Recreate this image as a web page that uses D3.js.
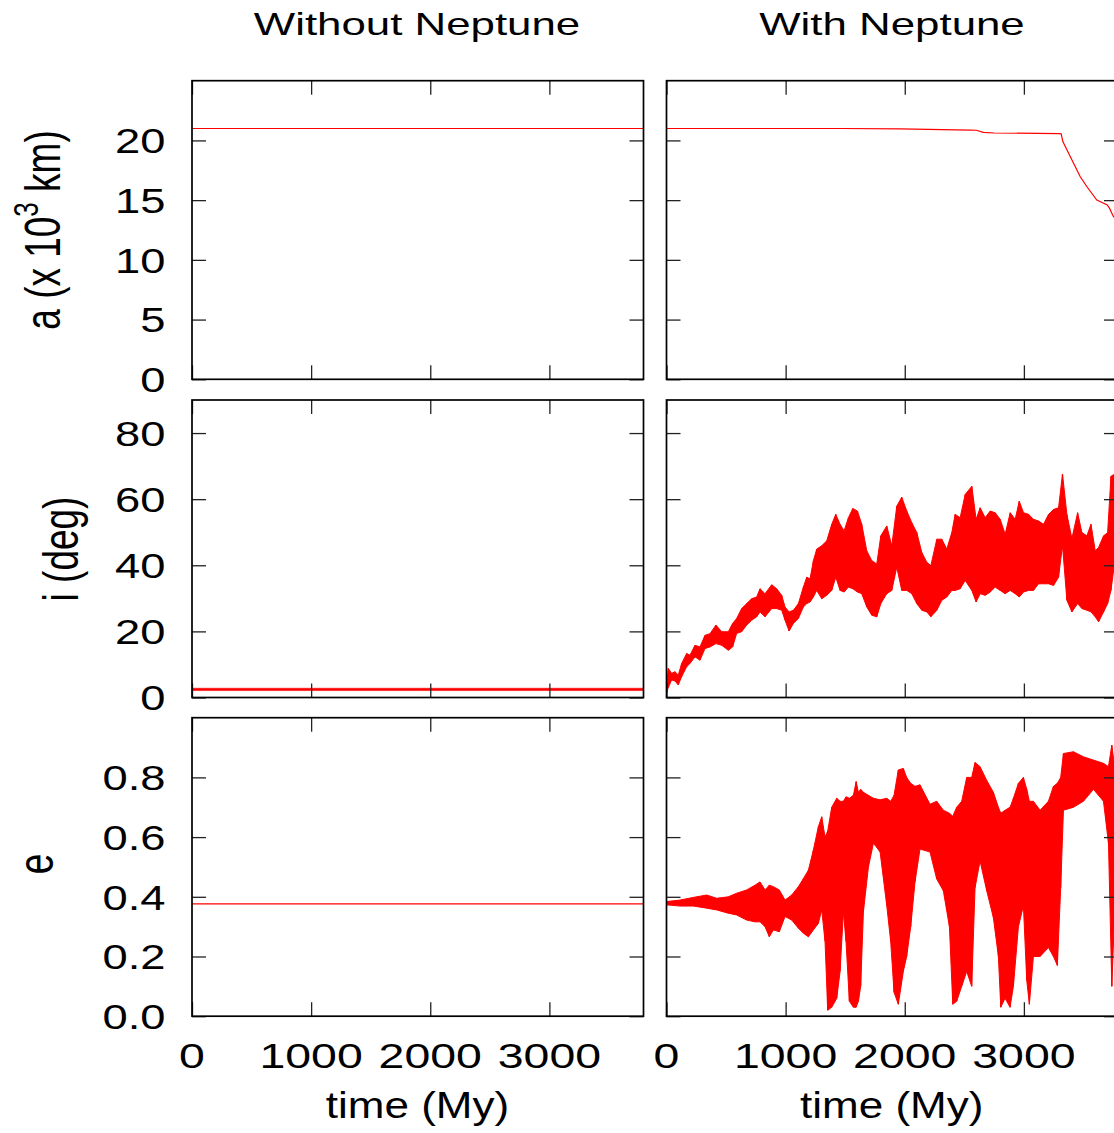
<!DOCTYPE html>
<html><head><meta charset="utf-8">
<script src="https://cdn.jsdelivr.net/npm/d3@7"></script>
<style>
html,body{margin:0;padding:0;background:#fff;}
svg{display:block;}
text{font-family:"Liberation Sans",Arial,Helvetica,sans-serif;fill:#000;}
</style></head>
<body>
<svg id="chart" width="1114" height="1133"></svg>
<script>
// ---------- data ----------
const columnTitles = ["Without Neptune", "With Neptune"];
const timeTicks = [0, 1000, 2000, 3000];
const aTicks = [0, 5, 10, 15, 20];
const iTicks = [0, 20, 40, 60, 80];
const eTicks = [0, 0.2, 0.4, 0.6, 0.8];
const timeMax = 3790;

// Without Neptune
const aWithoutTime = [0, 3790];
const aWithoutValue = [21.0, 21.0];
const iWithoutTime = [0, 3790];
const iWithoutLow = [2.1, 2.1];
const iWithoutHigh = [2.8, 2.8];
const eWithoutTime = [0, 3790];
const eWithoutValue = [0.376, 0.376];

// With Neptune
const aWithTime  = [0, 1460, 1960, 2550, 2600, 2660, 2750, 3300, 3313, 3327, 3388, 3472, 3528, 3612, 3700, 3718, 3751, 3790];
const aWithValue = [21.0, 21.0, 20.96, 20.87, 20.85, 20.68, 20.62, 20.57, 20.55, 19.9, 18.67, 16.98, 16.14, 15.0, 14.6, 14.33, 13.63, 13.2];

const iWithTime = [0, 15, 43, 71, 99, 127, 169, 197, 239, 281, 323, 365, 415, 463, 519, 555, 589, 631, 673, 715, 757, 785, 827, 883, 925, 967, 995, 1029, 1065, 1107, 1149, 1177, 1205, 1233, 1261, 1303, 1345, 1387, 1421, 1457, 1491, 1527, 1564, 1603, 1639, 1681, 1723, 1765, 1799, 1849, 1891, 1933, 1975, 2017, 2059, 2101, 2143, 2185, 2219, 2269, 2311, 2353, 2395, 2423, 2465, 2507, 2563, 2599, 2633, 2675, 2717, 2759, 2801, 2843, 2885, 2927, 2961, 2997, 3039, 3081, 3123, 3165, 3207, 3249, 3291, 3324, 3361, 3403, 3451, 3487, 3529, 3563, 3599, 3627, 3669, 3703, 3731, 3753, 3790];
const iWithLow  = [1.5, 3.0, 5.3, 5.0, 3.8, 6.3, 9.3, 10.3, 12.3, 11.3, 14.8, 15.3, 16.3, 15.8, 14.3, 15.3, 19.4, 19.9, 21.9, 23.4, 24.4, 25.9, 24.4, 26.9, 26.9, 26.4, 23.4, 20.1, 22.4, 23.9, 27.4, 28.4, 28.9, 30.4, 32.4, 29.9, 30.9, 32.4, 36.4, 32.4, 31.9, 33.4, 32.9, 31.9, 31.4, 27.4, 24.9, 24.4, 28.4, 31.4, 32.4, 39.4, 32.4, 32.4, 31.4, 28.4, 26.4, 25.9, 24.4, 26.4, 29.4, 30.4, 32.4, 32.4, 32.9, 35.4, 32.4, 28.9, 31.4, 30.9, 31.9, 33.4, 32.4, 31.4, 32.4, 31.4, 30.4, 31.9, 32.4, 32.4, 34.4, 34.4, 34.4, 33.9, 36.4, 46.0, 29.4, 25.9, 28.4, 26.9, 26.4, 25.9, 24.4, 22.9, 25.9, 28.4, 32.4, 38.4, 38.0];
const iWithHigh = [3.0, 8.8, 7.3, 7.8, 6.8, 10.3, 13.3, 12.8, 15.8, 15.3, 18.8, 19.3, 21.9, 19.9, 19.9, 22.4, 23.9, 26.9, 28.4, 29.9, 30.4, 32.9, 31.4, 34.1, 32.9, 30.9, 27.4, 25.9, 26.4, 28.4, 33.4, 36.4, 35.9, 41.4, 44.9, 45.9, 47.4, 52.4, 55.4, 52.4, 50.4, 54.4, 57.2, 56.4, 52.4, 44.4, 41.4, 40.4, 48.9, 51.9, 45.9, 57.9, 60.6, 56.4, 52.9, 49.9, 43.9, 40.9, 39.9, 47.9, 47.9, 44.9, 49.9, 55.4, 54.4, 61.4, 63.9, 53.9, 57.4, 54.4, 56.4, 55.9, 53.9, 49.4, 55.9, 53.9, 59.4, 55.9, 55.4, 53.9, 53.4, 52.4, 55.4, 56.9, 57.4, 67.6, 55.4, 48.1, 55.9, 49.9, 48.9, 52.4, 44.4, 45.4, 48.9, 49.9, 66.9, 67.4, 66.0];

const eWithTime = [0, 113, 225, 337, 421, 519, 589, 673, 743, 785, 827, 863, 897, 947, 995, 1051, 1107, 1149, 1191, 1233, 1275, 1303, 1331, 1353, 1387, 1429, 1457, 1485, 1507, 1535, 1569, 1592, 1611, 1630, 1653, 1695, 1737, 1793, 1849, 1882, 1910, 1946, 1988, 2016, 2050, 2086, 2128, 2212, 2268, 2324, 2375, 2403, 2436, 2478, 2520, 2562, 2590, 2632, 2688, 2744, 2786, 2806, 2842, 2884, 2912, 2954, 2996, 3024, 3046, 3080, 3136, 3206, 3248, 3281, 3309, 3332, 3416, 3500, 3584, 3668, 3710, 3738, 3757, 3790];
const eWithLow  = [0.373, 0.369, 0.369, 0.362, 0.356, 0.345, 0.339, 0.322, 0.316, 0.316, 0.300, 0.266, 0.289, 0.283, 0.334, 0.322, 0.295, 0.278, 0.266, 0.289, 0.311, 0.356, 0.25, 0.02, 0.03, 0.06, 0.15, 0.35, 0.25, 0.05, 0.03, 0.03, 0.05, 0.10, 0.35, 0.50, 0.58, 0.55, 0.37, 0.25, 0.08, 0.04, 0.15, 0.20, 0.30, 0.45, 0.56, 0.55, 0.46, 0.42, 0.30, 0.04, 0.05, 0.10, 0.15, 0.10, 0.43, 0.52, 0.42, 0.33, 0.20, 0.03, 0.06, 0.03, 0.10, 0.30, 0.37, 0.12, 0.04, 0.20, 0.20, 0.23, 0.20, 0.17, 0.43, 0.69, 0.70, 0.72, 0.76, 0.72, 0.58, 0.10, 0.30, 0.40];
const eWithHigh = [0.384, 0.389, 0.398, 0.406, 0.395, 0.400, 0.412, 0.423, 0.439, 0.450, 0.423, 0.439, 0.434, 0.423, 0.389, 0.406, 0.434, 0.461, 0.489, 0.557, 0.635, 0.668, 0.60, 0.62, 0.70, 0.73, 0.72, 0.72, 0.735, 0.73, 0.74, 0.786, 0.75, 0.76, 0.75, 0.74, 0.73, 0.725, 0.73, 0.72, 0.74, 0.825, 0.83, 0.80, 0.78, 0.77, 0.775, 0.71, 0.72, 0.69, 0.68, 0.67, 0.70, 0.72, 0.80, 0.80, 0.85, 0.836, 0.79, 0.75, 0.70, 0.68, 0.69, 0.70, 0.73, 0.78, 0.80, 0.76, 0.72, 0.72, 0.69, 0.72, 0.77, 0.78, 0.80, 0.88, 0.886, 0.869, 0.858, 0.847, 0.836, 0.908, 0.85, 0.84];

// ---------- layout ----------
const svg = d3.select("#chart");
const cols = [[192, 643.5], [666.5, 1118]];
const rows = [
  {key: "a", y: [379.3, 80.7], domain: [0, 25], ticks: aTicks, fmt: d3.format("d")},
  {key: "i", y: [697.5, 400.0], domain: [0, 90], ticks: iTicks, fmt: d3.format("d")},
  {key: "e", y: [1016.2, 717.7], domain: [0, 1], ticks: eTicks, fmt: d3.format(".1f")}
];
const RED = "#ff0000";
const TICK = 14;

function addText(parent, x, y, str, size, sx, anchor, rot) {
  return parent.append("text")
    .attr("transform", `translate(${x},${y}) scale(${sx},1)` + (rot ? " rotate(-90)" : ""))
    .attr("text-anchor", anchor)
    .style("font-size", size + "px")
    .text(str);
}

const defs = svg.append("defs");

rows.forEach((row, ri) => {
  const y = d3.scaleLinear().domain(row.domain).range(row.y);
  cols.forEach((cx, ci) => {
    const x = d3.scaleLinear().domain([0, timeMax]).range(cx);
    const id = `clip-${ri}-${ci}`;
    defs.append("clipPath").attr("id", id).append("rect")
      .attr("x", cx[0]).attr("y", row.y[1]).attr("width", cx[1] - cx[0]).attr("height", row.y[0] - row.y[1]);
    const g = svg.append("g");
    const dg = g.append("g").attr("clip-path", `url(#${id})`);

    if (ci === 0) {
      if (row.key === "a" || row.key === "e") {
        const tt = row.key === "a" ? aWithoutTime : eWithoutTime;
        const vv = row.key === "a" ? aWithoutValue : eWithoutValue;
        dg.append("path").datum(tt.map((t, k) => [t, vv[k]]))
          .attr("fill", "none").attr("stroke", RED).attr("stroke-width", 1.2)
          .attr("d", d3.line().x(d => x(d[0])).y(d => y(d[1])));
      } else {
        dg.append("path").datum(iWithoutTime.map((t, k) => [t, iWithoutLow[k], iWithoutHigh[k]]))
          .attr("fill", RED).attr("stroke", RED).attr("stroke-width", 0.6)
          .attr("d", d3.area().x(d => x(d[0])).y0(d => y(d[1])).y1(d => y(d[2])));
      }
    } else {
      if (row.key === "a") {
        dg.append("path").datum(aWithTime.map((t, k) => [t, aWithValue[k]]))
          .attr("fill", "none").attr("stroke", RED).attr("stroke-width", 1.2)
          .attr("d", d3.line().x(d => x(d[0])).y(d => y(d[1])));
      } else {
        const tt = row.key === "i" ? iWithTime : eWithTime;
        const lo = row.key === "i" ? iWithLow : eWithLow;
        const hi = row.key === "i" ? iWithHigh : eWithHigh;
        const pts = tt.map((t, k) => [t, lo[k], hi[k]]);
        dg.append("path").datum(pts)
          .attr("fill", RED).attr("stroke", RED).attr("stroke-width", 1)
          .attr("d", d3.area().x(d => x(d[0])).y0(d => y(d[1])).y1(d => y(d[2])));
        // vertical oscillation strokes at each sample
        dg.selectAll("line.osc").data(pts).join("line").attr("class", "osc")
          .attr("x1", d => x(d[0])).attr("x2", d => x(d[0]))
          .attr("y1", d => y(d[1])).attr("y2", d => y(d[2]))
          .attr("stroke", RED).attr("stroke-width", 1.2);
      }
    }

    const yl = g.append("g").attr("transform", `translate(${cx[0]},0)`)
      .call(d3.axisRight(y).tickValues(row.ticks).tickSize(TICK).tickFormat(""));
    const yr = g.append("g").attr("transform", `translate(${cx[1]},0)`)
      .call(d3.axisLeft(y).tickValues(row.ticks).tickSize(TICK).tickFormat(""));
    const xb = g.append("g").attr("transform", `translate(0,${row.y[0]})`)
      .call(d3.axisTop(x).tickValues(timeTicks).tickSize(TICK).tickFormat(""));
    const xt = g.append("g").attr("transform", `translate(0,${row.y[1]})`)
      .call(d3.axisBottom(x).tickValues(timeTicks).tickSize(TICK).tickFormat(""));
    [yl, yr, xb, xt].forEach(a => {
      a.select(".domain").remove();
      a.selectAll("line").attr("stroke", "#222").attr("stroke-width", 1.3);
    });

    g.append("rect").attr("x", cx[0]).attr("y", row.y[1])
      .attr("width", cx[1] - cx[0]).attr("height", row.y[0] - row.y[1])
      .attr("fill", "none").attr("stroke", "#000").attr("stroke-width", 1.7);

    if (ci === 0) {
      row.ticks.forEach(v => addText(svg, 165.5, y(v) + 12.8, row.fmt(v), 36, 1.26, "end"));
    }
    if (ri === 2) {
      timeTicks.forEach(v => addText(svg, x(v), 1068, String(v), 36, 1.29, "middle"));
    }
  });
});

addText(svg, 417, 34.5, columnTitles[0], 32, 1.37, "middle");
addText(svg, 892, 34.5, columnTitles[1], 32, 1.37, "middle");

addText(svg, 417.5, 1118, "time (My)", 37, 1.19, "middle");
addText(svg, 891.7, 1118, "time (My)", 37, 1.19, "middle");

const aLab = svg.append("text")
  .attr("transform", "translate(60,230) scale(1.35,1) rotate(-90)")
  .attr("text-anchor", "middle").style("font-size", "37px");
aLab.append("tspan").text("a (x 10");
aLab.append("tspan").attr("dy", -16).style("font-size", "26px").text("3");
aLab.append("tspan").attr("dy", 16).text(" km)");
addText(svg, 78, 549, "i (deg)", 37, 1.35, "middle", true);
addText(svg, 53, 864, "e", 37, 1.35, "middle", true);
</script>
</body></html>
